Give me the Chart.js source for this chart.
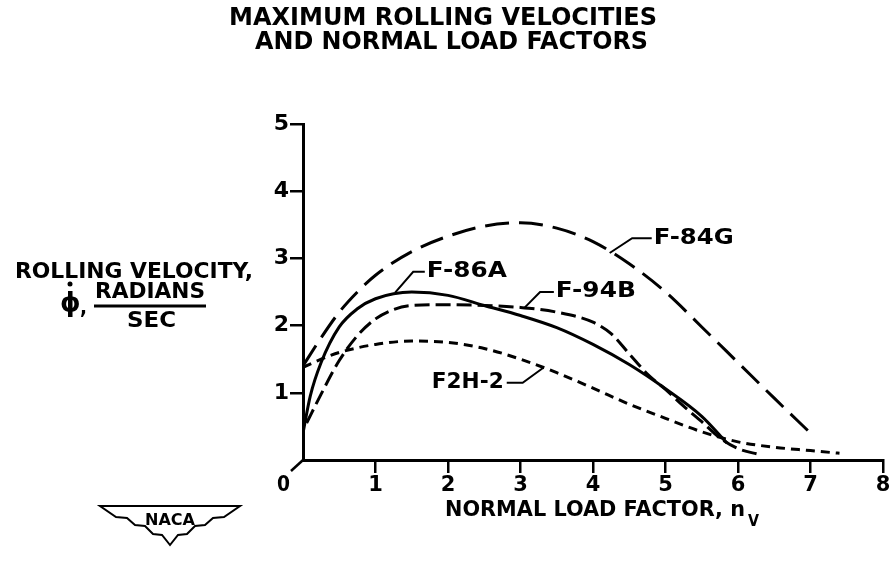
<!DOCTYPE html>
<html>
<head>
<meta charset="utf-8">
<script src="https://cdn.jsdelivr.net/npm/chart.js@4"></script>
<style>
  html, body { margin: 0; padding: 0; background: #fff; }
  #wrap { width: 891px; height: 571px; }
</style>
</head>
<body>
<div id="wrap"><canvas id="rollChart" width="891" height="571"></canvas></div>
<script>
// values (normal load factor vs rolling velocity, rad/sec)
const f84gX = [0, 0.25, 0.5, 0.75, 1, 1.5, 2, 2.5, 3, 3.5, 4, 4.5, 5, 5.5, 6, 6.5, 7];
const f84gY = [1.4, 1.82, 2.2, 2.5, 2.75, 3.1, 3.33, 3.48, 3.53, 3.45, 3.25, 2.92, 2.5, 1.98, 1.45, 0.92, 0.4];

const f86aX = [0, 0.1, 0.25, 0.5, 0.75, 1, 1.5, 2, 2.5, 3, 3.5, 4, 4.5, 5, 5.5, 5.85];
const f86aY = [0.4, 0.95, 1.45, 1.98, 2.25, 2.4, 2.5, 2.45, 2.3, 2.15, 1.97, 1.72, 1.42, 1.06, 0.65, 0.25];

const f94bX = [0.05, 0.25, 0.5, 0.75, 1, 1.25, 1.5, 2, 2.5, 3, 3.5, 4, 4.25, 4.5, 4.75, 5, 5.25, 5.5, 5.75, 6, 6.3];
const f94bY = [0.55, 0.98, 1.48, 1.85, 2.1, 2.24, 2.3, 2.31, 2.3, 2.27, 2.2, 2.05, 1.88, 1.58, 1.28, 1.05, 0.8, 0.57, 0.33, 0.17, 0.08];

const f2h2X = [0, 0.25, 0.5, 1, 1.5, 2, 2.5, 3, 3.5, 4, 4.5, 5, 5.5, 6, 6.5, 7, 7.4];
const f2h2Y = [1.38, 1.5, 1.6, 1.72, 1.77, 1.75, 1.66, 1.5, 1.3, 1.07, 0.83, 0.62, 0.42, 0.27, 0.19, 0.14, 0.1];

const xTickLabels = ['0', '1', '2', '3', '4', '5', '6', '7', '8'];
const yTickLabels = ['0', '1', '2', '3', '4', '5'];

const seriesNames = ['F-84G', 'F-86A', 'F-94B', 'F2H-2'];
// leader lines from each curve to its name (chart units), text sits at the last point
const leaders = [
  [[4.23, 3.08], [4.54, 3.30], [4.81, 3.30]],
  [[1.27, 2.49], [1.52, 2.80], [1.68, 2.80]],
  [[3.05, 2.26], [3.27, 2.50], [3.46, 2.50]],
  [[3.31, 1.37], [3.03, 1.15], [2.81, 1.15]]
];

const FONT = '"DejaVu Sans", "Liberation Sans", sans-serif';

function pts(xs, ys) {
  return xs.map((x, i) => ({ x: x, y: ys[i] }));
}

// draw bold text squeezed/stretched to a given width
function fitText(ctx, text, left, midY, width, size) {
  ctx.save();
  ctx.font = 'bold ' + size + 'px ' + FONT;
  const w = ctx.measureText(text).width;
  ctx.translate(left, midY);
  ctx.scale(width / w, 1);
  ctx.textAlign = 'left';
  ctx.textBaseline = 'middle';
  ctx.fillText(text, 0, 0);
  ctx.restore();
}

const labelsPlugin = {
  id: 'nacaLabels',
  afterDraw(chart) {
    const ctx = chart.ctx;
    const xs = chart.scales.x, ys = chart.scales.y;
    ctx.save();
    ctx.fillStyle = '#000';
    ctx.strokeStyle = '#000';

    // title
    fitText(ctx, 'MAXIMUM ROLLING VELOCITIES', 229, 18, 428, 25);
    fitText(ctx, 'AND NORMAL LOAD FACTORS', 255, 42, 393, 25);

    // y axis caption
    fitText(ctx, 'ROLLING VELOCITY,', 15, 272, 238, 22);
    ctx.font = 'bold 26px ' + FONT;
    ctx.textBaseline = 'middle';
    ctx.fillText('\u03D5', 60, 304);
    ctx.beginPath();
    ctx.arc(70, 284, 2.5, 0, Math.PI * 2);
    ctx.fill();
    fitText(ctx, ',', 80, 308, 7, 22);
    fitText(ctx, 'RADIANS', 95, 292, 110, 22);
    ctx.lineWidth = 3;
    ctx.beginPath();
    ctx.moveTo(94, 306);
    ctx.lineTo(206, 306);
    ctx.stroke();
    fitText(ctx, 'SEC', 127, 321, 49, 22);

    // x axis caption
    fitText(ctx, 'NORMAL LOAD FACTOR, n', 445, 510, 300, 22);
    fitText(ctx, 'V', 748, 522, 11, 16);

    // origin "0" with its little diagonal
    const ox = xs.getPixelForValue(0), oy = ys.getPixelForValue(0);
    ctx.lineWidth = 2.5;
    ctx.beginPath();
    ctx.moveTo(ox, oy);
    ctx.lineTo(ox - 12, oy + 11);
    ctx.stroke();
    fitText(ctx, '0', 277, 486, 13, 21);

    // curve names and their leaders
    ctx.lineWidth = 2;
    leaders.forEach((ln, i) => {
      ctx.beginPath();
      ln.forEach((p, k) => {
        const px = xs.getPixelForValue(p[0]), py = ys.getPixelForValue(p[1]);
        if (k === 0) ctx.moveTo(px, py); else ctx.lineTo(px, py);
      });
      ctx.stroke();
      const end = ln[ln.length - 1];
      const ex = xs.getPixelForValue(end[0]), ey = ys.getPixelForValue(end[1]);
      const w = i === 3 ? 72 : 80;
      if (i === 3) fitText(ctx, seriesNames[i], ex - w - 3, ey, w, 21);
      else fitText(ctx, seriesNames[i], ex + 2, ey, w, 21);
    });

    // NACA wings emblem
    ctx.lineWidth = 2;
    ctx.fillStyle = '#fff';
    ctx.beginPath();
    ctx.moveTo(100, 506);
    ctx.lineTo(240, 506);
    ctx.lineTo(224, 517);
    ctx.lineTo(213, 518);
    ctx.lineTo(205, 525);
    ctx.lineTo(195, 526);
    ctx.lineTo(187, 534);
    ctx.lineTo(178, 535);
    ctx.lineTo(170, 545);
    ctx.lineTo(162, 535);
    ctx.lineTo(153, 534);
    ctx.lineTo(145, 526);
    ctx.lineTo(135, 525);
    ctx.lineTo(127, 518);
    ctx.lineTo(116, 517);
    ctx.closePath();
    ctx.fill();
    ctx.stroke();
    ctx.fillStyle = '#000';
    fitText(ctx, 'NACA', 145, 521, 50, 16);

    ctx.restore();
  }
};

const lineStyle = {
  borderColor: '#000',
  borderWidth: 3,
  pointRadius: 0,
  fill: false,
  cubicInterpolationMode: 'monotone',
  borderCapStyle: 'butt'
};

const tickGrid = {
  display: true,
  drawOnChartArea: false,
  drawTicks: true,
  tickLength: 13,
  lineWidth: 2.5,
  color: (c) => (c.tick && c.tick.value === 0 ? 'rgba(0,0,0,0)' : '#000')
};

new Chart(document.getElementById('rollChart').getContext('2d'), {
  type: 'line',
  data: {
    datasets: [
      Object.assign({ label: seriesNames[0], data: pts(f84gX, f84gY), borderDash: [24, 10] }, lineStyle),
      Object.assign({ label: seriesNames[1], data: pts(f86aX, f86aY), borderDash: [] }, lineStyle),
      Object.assign({ label: seriesNames[2], data: pts(f94bX, f94bY), borderDash: [15, 6] }, lineStyle),
      Object.assign({ label: seriesNames[3], data: pts(f2h2X, f2h2Y), borderDash: [9, 6] }, lineStyle)
    ]
  },
  options: {
    responsive: false,
    animation: false,
    devicePixelRatio: 1,
    layout: { padding: { top: 124, right: 8, left: 0, bottom: 0 } },
    plugins: {
      legend: { display: false },
      tooltip: { enabled: false },
      title: { display: false }
    },
    scales: {
      x: {
        type: 'linear',
        min: 0,
        max: 8,
        afterFit: (s) => { s.height = 111; },
        border: { color: '#000', width: 3 },
        grid: tickGrid,
        ticks: {
          stepSize: 1,
          color: '#000',
          padding: 0,
          maxRotation: 0,
          font: { family: FONT, size: 21, weight: 'bold' },
          callback: (v) => (v === 0 ? '' : xTickLabels[v])
        }
      },
      y: {
        min: 0,
        max: 5,
        afterFit: (s) => { s.width = 303; },
        border: { color: '#000', width: 3 },
        grid: tickGrid,
        ticks: {
          stepSize: 1,
          color: '#000',
          padding: 1,
          font: { family: FONT, size: 22, weight: 'bold' },
          callback: (v) => (v === 0 ? '' : yTickLabels[v])
        }
      }
    }
  },
  plugins: [labelsPlugin]
});
</script>
</body>
</html>
